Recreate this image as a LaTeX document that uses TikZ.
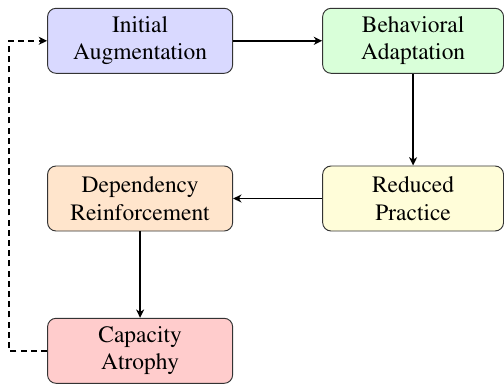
\documentclass[tikz,border=0pt]{standalone}
\usepackage[T1]{fontenc}
\usepackage{times}
\usetikzlibrary{arrows.meta}
\begin{document}
\begin{tikzpicture}[x=0.529pt,y=-0.529pt,
  stage/.style={draw=black!80, line width=0.5pt, rounded corners=4.5pt,
    minimum height=34.4pt, align=center, inner sep=0pt,
    font=\fontsize{12.4}{14.5}\selectfont},
  leftstage/.style={stage, minimum width=97.9pt},
  rightstage/.style={stage, minimum width=95.7pt},
  flow/.style={-{Stealth[length=4.4pt,width=4.2pt,inset=1.3pt]}, line width=0.85pt},
  loopback/.style={flow, dash pattern=on 3.2pt off 2.2pt}]
\useasboundingbox (0,0) rectangle (504,387);
\node[leftstage, fill=blue!15] (init) at (140.1,40.8) {Initial\\Augmentation};
\node[rightstage, fill=green!15] (adapt) at (413.1,40.8) {Behavioral\\Adaptation};
\node[rightstage, fill=yellow!15] (practice) at (413.1,198.5) {Reduced\\Practice};
\node[leftstage, fill=orange!20] (depend) at (140.1,198.5) {Dependency\\Reinforcement};
\node[leftstage, fill=red!20] (atrophy) at (140.1,350.8) {Capacity\\Atrophy};
\coordinate (lowcorner) at (9,350.8);
\coordinate (highcorner) at (9,40.8);
\draw[flow] (init) -- (adapt);
\draw[flow] (adapt) -- (practice);
\draw[flow] (practice) -- (depend);
\draw[flow] (depend) -- (atrophy);
\draw[loopback] (atrophy.west) -- (lowcorner) -- (highcorner) -- (init.west);
\end{tikzpicture}
\end{document}
